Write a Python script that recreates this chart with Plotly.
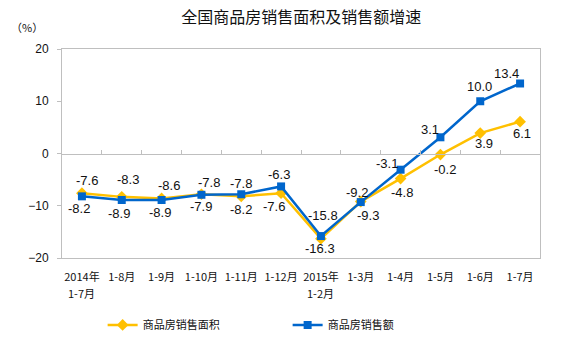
import plotly.graph_objects as go

# Categories (cumulative periods): first line, optional second line
periods = ["2014年", "1-8月", "1-9月", "1-10月", "1-11月", "1-12月",
           "2015年", "1-3月", "1-4月", "1-5月", "1-6月", "1-7月"]
periods_second_line = ["1-7月", "", "", "", "", "", "1-2月", "", "", "", "", ""]
# Year-on-year growth, %
area_growth = [-7.6, -8.3, -8.6, -7.8, -8.2, -7.6, -16.3, -9.2, -4.8, -0.2, 3.9, 6.1]
sales_growth = [-8.2, -8.9, -8.9, -7.9, -7.8, -6.3, -15.8, -9.3, -3.1, 3.1, 10.0, 13.4]
y_ticks = [-20, -10, 0, 10, 20]

area_name = "商品房销售面积"
sales_name = "商品房销售额"

YELLOW = "#FFC000"
BLUE = "#0066CC"
GRID = "#BFBFBF"
INK = "#111111"
LABEL_FONT = dict(family="Liberation Sans, Arial, sans-serif", size=13, color=INK)
CJK = "Noto Sans CJK SC, sans-serif"
CAT_FONT = dict(family=CJK, size=11, color=INK)

x = list(range(len(periods)))

# pixel offsets (dx, dy; dy positive = upward) of each value label from its marker
area_label_shift = [(5, 13), (6, 17), (7, 13), (8, 12), (0, -13), (-7, -13),
                    (-1, -10), (-4, 9), (1, -14), (5, -15), (4, -10), (2, -12)]
sales_label_shift = [(-3, -12), (-3, -13), (-2, -12), (0, -12), (0, 11), (-2, 12),
                     (2, 21), (7, -13), (-14, 6), (-10, 8), (-1, 15), (-14, 10)]

fig = go.Figure()
fig.add_trace(go.Scatter(
    x=x, y=area_growth, name=area_name, mode="lines+markers",
    line=dict(color=YELLOW, width=2.5),
    marker=dict(symbol="diamond", size=9, color=YELLOW),
))
fig.add_trace(go.Scatter(
    x=x, y=sales_growth, name=sales_name, mode="lines+markers",
    line=dict(color=BLUE, width=2.5),
    marker=dict(symbol="square", size=8, color=BLUE),
))
# invisible trace that renders the category axis through y = 0
fig.add_trace(go.Scatter(x=[0], y=[0], xaxis="x2", mode="markers",
                         marker=dict(opacity=0), showlegend=False, hoverinfo="skip"))

annotations = []
for values, shifts in ((area_growth, area_label_shift), (sales_growth, sales_label_shift)):
    for xi, v, (dx, dy) in zip(x, values, shifts):
        annotations.append(dict(
            x=xi, y=v, xref="x", yref="y", text=f"{v:.1f}", showarrow=False,
            xanchor="center", yanchor="middle", xshift=dx, yshift=dy, font=LABEL_FONT,
        ))
# second line of the two-line period labels
for xi, line2 in zip(x, periods_second_line):
    if line2:
        annotations.append(dict(
            x=xi, y=0, xref="x", yref="paper", text=line2, showarrow=False,
            xanchor="center", yanchor="middle", yshift=-35, font=CAT_FONT,
        ))
annotations.append(dict(text="（%）", xref="paper", yref="paper", x=-0.11, y=1.105,
                        xanchor="left", yanchor="middle", showarrow=False,
                        font=dict(family=CJK, size=11, color=INK)))

fig.update_layout(
    width=564, height=344,
    margin=dict(l=62, r=24, t=49, b=86, autoexpand=False),
    paper_bgcolor="white", plot_bgcolor="white",
    title=dict(text="全国商品房销售面积及销售额增速", x=0.534, xanchor="center",
               y=0.95, yanchor="middle",
               font=dict(family=CJK, size=16, color=INK)),
    showlegend=True,
    legend=dict(orientation="h", x=0.085, xanchor="left", y=-0.32, yanchor="middle",
                font=dict(family=CJK, size=11, color=INK),
                entrywidth=140, itemwidth=30),
    xaxis=dict(
        range=[-0.5, len(periods) - 0.5], tickvals=x, ticktext=periods,
        showline=True, linecolor=GRID, mirror=True, showgrid=False, zeroline=False,
        ticks="", ticklabelstandoff=9, tickfont=CAT_FONT,
    ),
    xaxis2=dict(
        overlaying="x", matches="x", anchor="free", position=0.5, side="bottom",
        tickvals=[i + 0.5 for i in x[:-1]], ticks="inside", ticklen=4,
        tickcolor=GRID, showticklabels=False, showline=True, linecolor=GRID,
        showgrid=False, zeroline=False,
    ),
    yaxis=dict(
        range=[-20, 20], tickvals=y_ticks, showline=True, linecolor=GRID, mirror=True,
        showgrid=False, zeroline=False, ticks="outside", ticklen=4, tickcolor=GRID,
        ticklabelstandoff=6,
        tickfont=dict(family="Liberation Sans, Arial, sans-serif", size=12, color=INK),
    ),
    annotations=annotations,
)

fig.write_html("out.html")
